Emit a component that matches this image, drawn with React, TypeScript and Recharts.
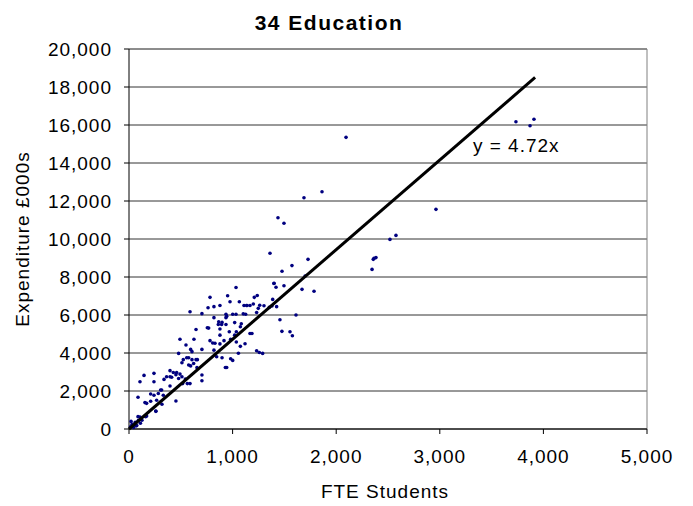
import React from "react";
import {
  ScatterChart,
  Scatter,
  XAxis,
  YAxis,
  CartesianGrid,
  ReferenceLine,
  ReferenceDot,
} from "recharts";

// FTE students per institution (x) and expenditure in £000s (y)
const fteStudents = [
  15, 30, 45, 60, 75, 90, 110, 68, 125, 106, 170, 20, 87, 161,
  87, 154, 170, 209, 209, 241, 283, 315, 267, 318, 260, 453, 258,
  241, 241, 145, 106, 305, 331, 396, 338, 363, 396, 412, 453, 396, 428, 460,
  492, 511, 479, 544, 563, 589, 518,
  479, 511, 524, 557, 576, 608, 647, 660, 576, 595, 624, 656, 704, 704,
  846, 898, 930, 943, 981, 1001,
  492, 550, 595, 608, 627, 704, 782, 808, 830, 820, 878, 917, 981, 1020,
  1036, 1120, 1075, 1056, 1232, 1258, 1290,
  647, 756, 769, 878, 878, 968, 1020, 1084, 1036, 1075, 1168, 1187,
  589, 704, 820, 936, 1001, 1033, 936, 866, 898, 936, 1103, 1126, 1232,
  1248, 1354, 1457, 1612, 1476, 1554, 1577,
  1033, 1399, 1496, 782, 952, 878, 763, 975, 1065, 1136, 1168, 1209, 1238,
  1200, 1303, 1380, 1425, 1387, 820, 1110, 1139, 1262, 943, 862, 894,
  1689, 1863, 1438, 1496, 1361, 1573, 1728, 1477, 1400, 1419, 1670,
  1786, 1700, 2095, 3735, 3871, 3909, 2963, 2519, 2577, 2365, 2384,
  2358, 2346,
];

const expenditure = [
  120, 250, 80, 350, 180, 450, 300, 175, 460, 630, 680, 400, 650, 650,
  1670, 1390, 1350, 1460, 1840, 1780, 1870, 2050, 1510, 1300, 930, 1470, 950,
  2930, 2490, 2820, 2490, 2050, 1780, 2260, 2610, 2750, 2750, 2720, 2860, 3070, 2970, 2970,
  2890, 2750, 2660, 2630, 2390, 2390, 2390,
  3980, 3490, 3650, 3750, 3750, 3650, 3650, 3650, 3370, 3320, 3450, 3230, 2840, 2540,
  3800, 3750, 3240, 3240, 3700, 3610,
  4720, 4420, 4190, 4070, 4720, 4190, 4650, 4530, 4510, 4150, 4480, 4650, 4720, 4940,
  4580, 4490, 4350, 3990, 4120, 4030, 3980,
  5240, 5330, 5310, 5260, 4940, 5120, 5600, 5540, 5120, 5380, 5030, 5030,
  6170, 6070, 5860, 6040, 6040, 6040, 5860, 5640, 5610, 5500, 6060, 6040, 6130,
  6350, 6400, 5750, 6000, 5140, 5120, 4910,
  7450, 7660, 7540, 6930, 7010, 6500, 6380, 6700, 6700, 6500, 6500, 6930, 7030,
  6580, 6490, 6470, 6440, 6820, 6440, 6500, 6500, 6510, 5930, 5500, 5500,
  12170, 12490, 11120, 10830, 9250, 8600, 8930, 8300, 7670, 7460, 7350,
  7250, 8050, 15350, 16170, 15960, 16300, 11560, 9980, 10190, 8980, 9020,
  8930, 8400,
];

const xTicks = [0, 1000, 2000, 3000, 4000, 5000];
const yTicks = [0, 2000, 4000, 6000, 8000, 10000, 12000, 14000, 16000, 18000, 20000];

const trendSlope = 4.72;
const trendEndX = 3920;
const trendLabel = "y = 4.72x";

const points = fteStudents.map((x, i) => ({ x, y: expenditure[i] }));
const trend = [
  { x: 0, y: 0 },
  { x: trendEndX, y: trendSlope * trendEndX },
];

const FONT = "'Liberation Sans', Arial, sans-serif";
const fmt = (v: number) => v.toLocaleString("en-US");

const Dot = (props: any) => (
  <circle cx={props.cx} cy={props.cy} r={1.8} fill="#000080" />
);

export default function App() {
  return (
    <div style={{ position: "relative", width: 685, height: 498, fontFamily: FONT }}>
      <div
        style={{
          position: "absolute",
          left: 0,
          top: 4,
          width: 642,
          textAlign: "center",
          fontSize: 21,
          lineHeight: "21px",
          fontWeight: "bold",
          letterSpacing: 1.5,
          color: "#000",
        }}
      >
        34 Education
      </div>
      <ScatterChart
        width={685}
        height={498}
        margin={{ top: 41, right: 46, bottom: 0, left: 0 }}
      >
        <CartesianGrid vertical={false} stroke="#333" />
        <XAxis
          type="number"
          dataKey="x"
          domain={[0, 5000]}
          ticks={xTicks}
          tickFormatter={fmt}
          height={77}
          tickSize={5}
          tickMargin={16}
          stroke="#000"
          tick={{ fill: "#000", fontSize: 19, fontFamily: FONT, letterSpacing: 1 }}
          label={{
            content: (p: any) => (
              <text
                x={p.viewBox.x + p.viewBox.width / 2 - 3}
                y={490}
                textAnchor="middle"
                fontSize={19}
                fontFamily={FONT}
                letterSpacing={1}
                fill="#000"
              >
                FTE Students
              </text>
            ),
          }}
        />
        <YAxis
          type="number"
          dataKey="y"
          domain={[0, 20000]}
          ticks={yTicks}
          tickFormatter={fmt}
          width={121}
          tickSize={5}
          tickMargin={12}
          stroke="#000"
          tick={{ fill: "#000", fontSize: 19, fontFamily: FONT, letterSpacing: 1 }}
          label={{
            content: (p: any) => {
              const cx = 14;
              const cy = p.viewBox.y + p.viewBox.height / 2;
              return (
                <text
                  x={cx}
                  y={cy}
                  transform={`rotate(-90 ${cx} ${cy})`}
                  textAnchor="middle"
                  dominantBaseline="central"
                  fontSize={19}
                  fontFamily={FONT}
                  letterSpacing={1}
                  fill="#000"
                >
                  Expenditure £000s
                </text>
              );
            },
          }}
        />
        <ReferenceLine y={20000} stroke="#808080" />
        <ReferenceLine x={5000} stroke="#808080" />
        <Scatter data={points} shape={Dot} isAnimationActive={false} />
        <Scatter
          data={trend}
          line={{ stroke: "#000", strokeWidth: 3 }}
          shape={() => <g />}
          isAnimationActive={false}
        />
        <ReferenceDot
          x={3320}
          y={14600}
          r={0}
          shape={(p: any) => (
            <text
              x={p.cx}
              y={p.cy}
              fontSize={19}
              fontFamily={FONT}
              letterSpacing={1}
              fill="#000"
            >
              {trendLabel}
            </text>
          )}
        />
      </ScatterChart>
    </div>
  );
}
